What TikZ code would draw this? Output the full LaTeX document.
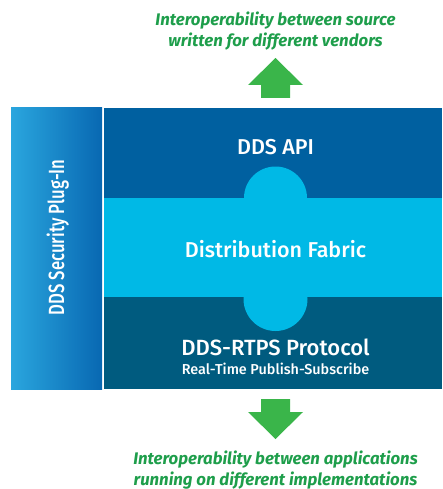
\documentclass[tikz,border=0pt]{standalone}
\usepackage{fontspec}
\setmainfont{Fira Sans}
\newfontfamily\medfont{Fira Sans Medium}
\definecolor{apiblue}{HTML}{0060A0}
\definecolor{fabric}{HTML}{00B9E6}
\definecolor{rtps}{HTML}{005B7F}
\definecolor{secl}{HTML}{2AA6DE}
\definecolor{secr}{HTML}{0868B2}
\definecolor{arrowgreen}{HTML}{3AB54A}
\definecolor{textgreen}{HTML}{1E9E4B}
\tikzset{
  layertext/.style={text=white, inner sep=0pt, font=\medfont\fontsize{21.5}{24}\selectfont},
  sectext/.style={text=white, inner sep=0pt, font=\medfont\fontsize{22}{24}\selectfont},
  subtext/.style={text=white, inner sep=0pt, font=\medfont\fontsize{14.4}{16}\selectfont},
  greentext/.style={text=textgreen, inner sep=0pt, align=center, font=\fontsize{16.8}{21}\selectfont\bfseries\itshape},
  bigarrow/.style={fill=arrowgreen}
}
\begin{document}
\begin{tikzpicture}[x=1pt,y=-1pt]
\useasboundingbox (0,0) rectangle (442,489);
% layers
\fill[apiblue] (104,108) rectangle (442,198);
\fill[fabric] (104,198) rectangle (442,297);
\fill[rtps] (104,297) rectangle (442,389);
\fill[fabric] (275.5,198) circle (31.5);
\fill[fabric] (275.5,299) circle (32);
% security bar
\shade[left color=secl, right color=secr] (11,108) rectangle (102,389);
\node[sectext, rotate=90, anchor=base] (sec) at (64,237.5) {\scalebox{0.76}[1]{DDS Security Plug-In}};
% layer labels
\node[layertext] (api) at (275.5,147.5) {DDS API};
\node[layertext] (fab) at (275.5,249) {Distribution Fabric};
\node[layertext, font=\medfont\fontsize{22}{24}\selectfont] (rtpsl) at (275.5,347) {DDS-RTPS Protocol};
\node[subtext] (rtpss) at (275.5,368.5) {Real-Time Publish-Subscribe};
% arrows
\fill[bigarrow] (261,98) -- (261,85) -- (248,85) -- (275.5,58) -- (303,85) -- (290,85) -- (290,98) -- cycle;
\fill[bigarrow] (261,399) -- (261,412) -- (248,412) -- (275.5,439) -- (303,412) -- (290,412) -- (290,399) -- cycle;
% green texts
\node[greentext] (top) at (275.5,31) {Interoperability between source\\written for different vendors};
\node[greentext] (bot) at (275.5,470) {Interoperability between applications\\running on different implementations};
\end{tikzpicture}
\end{document}
